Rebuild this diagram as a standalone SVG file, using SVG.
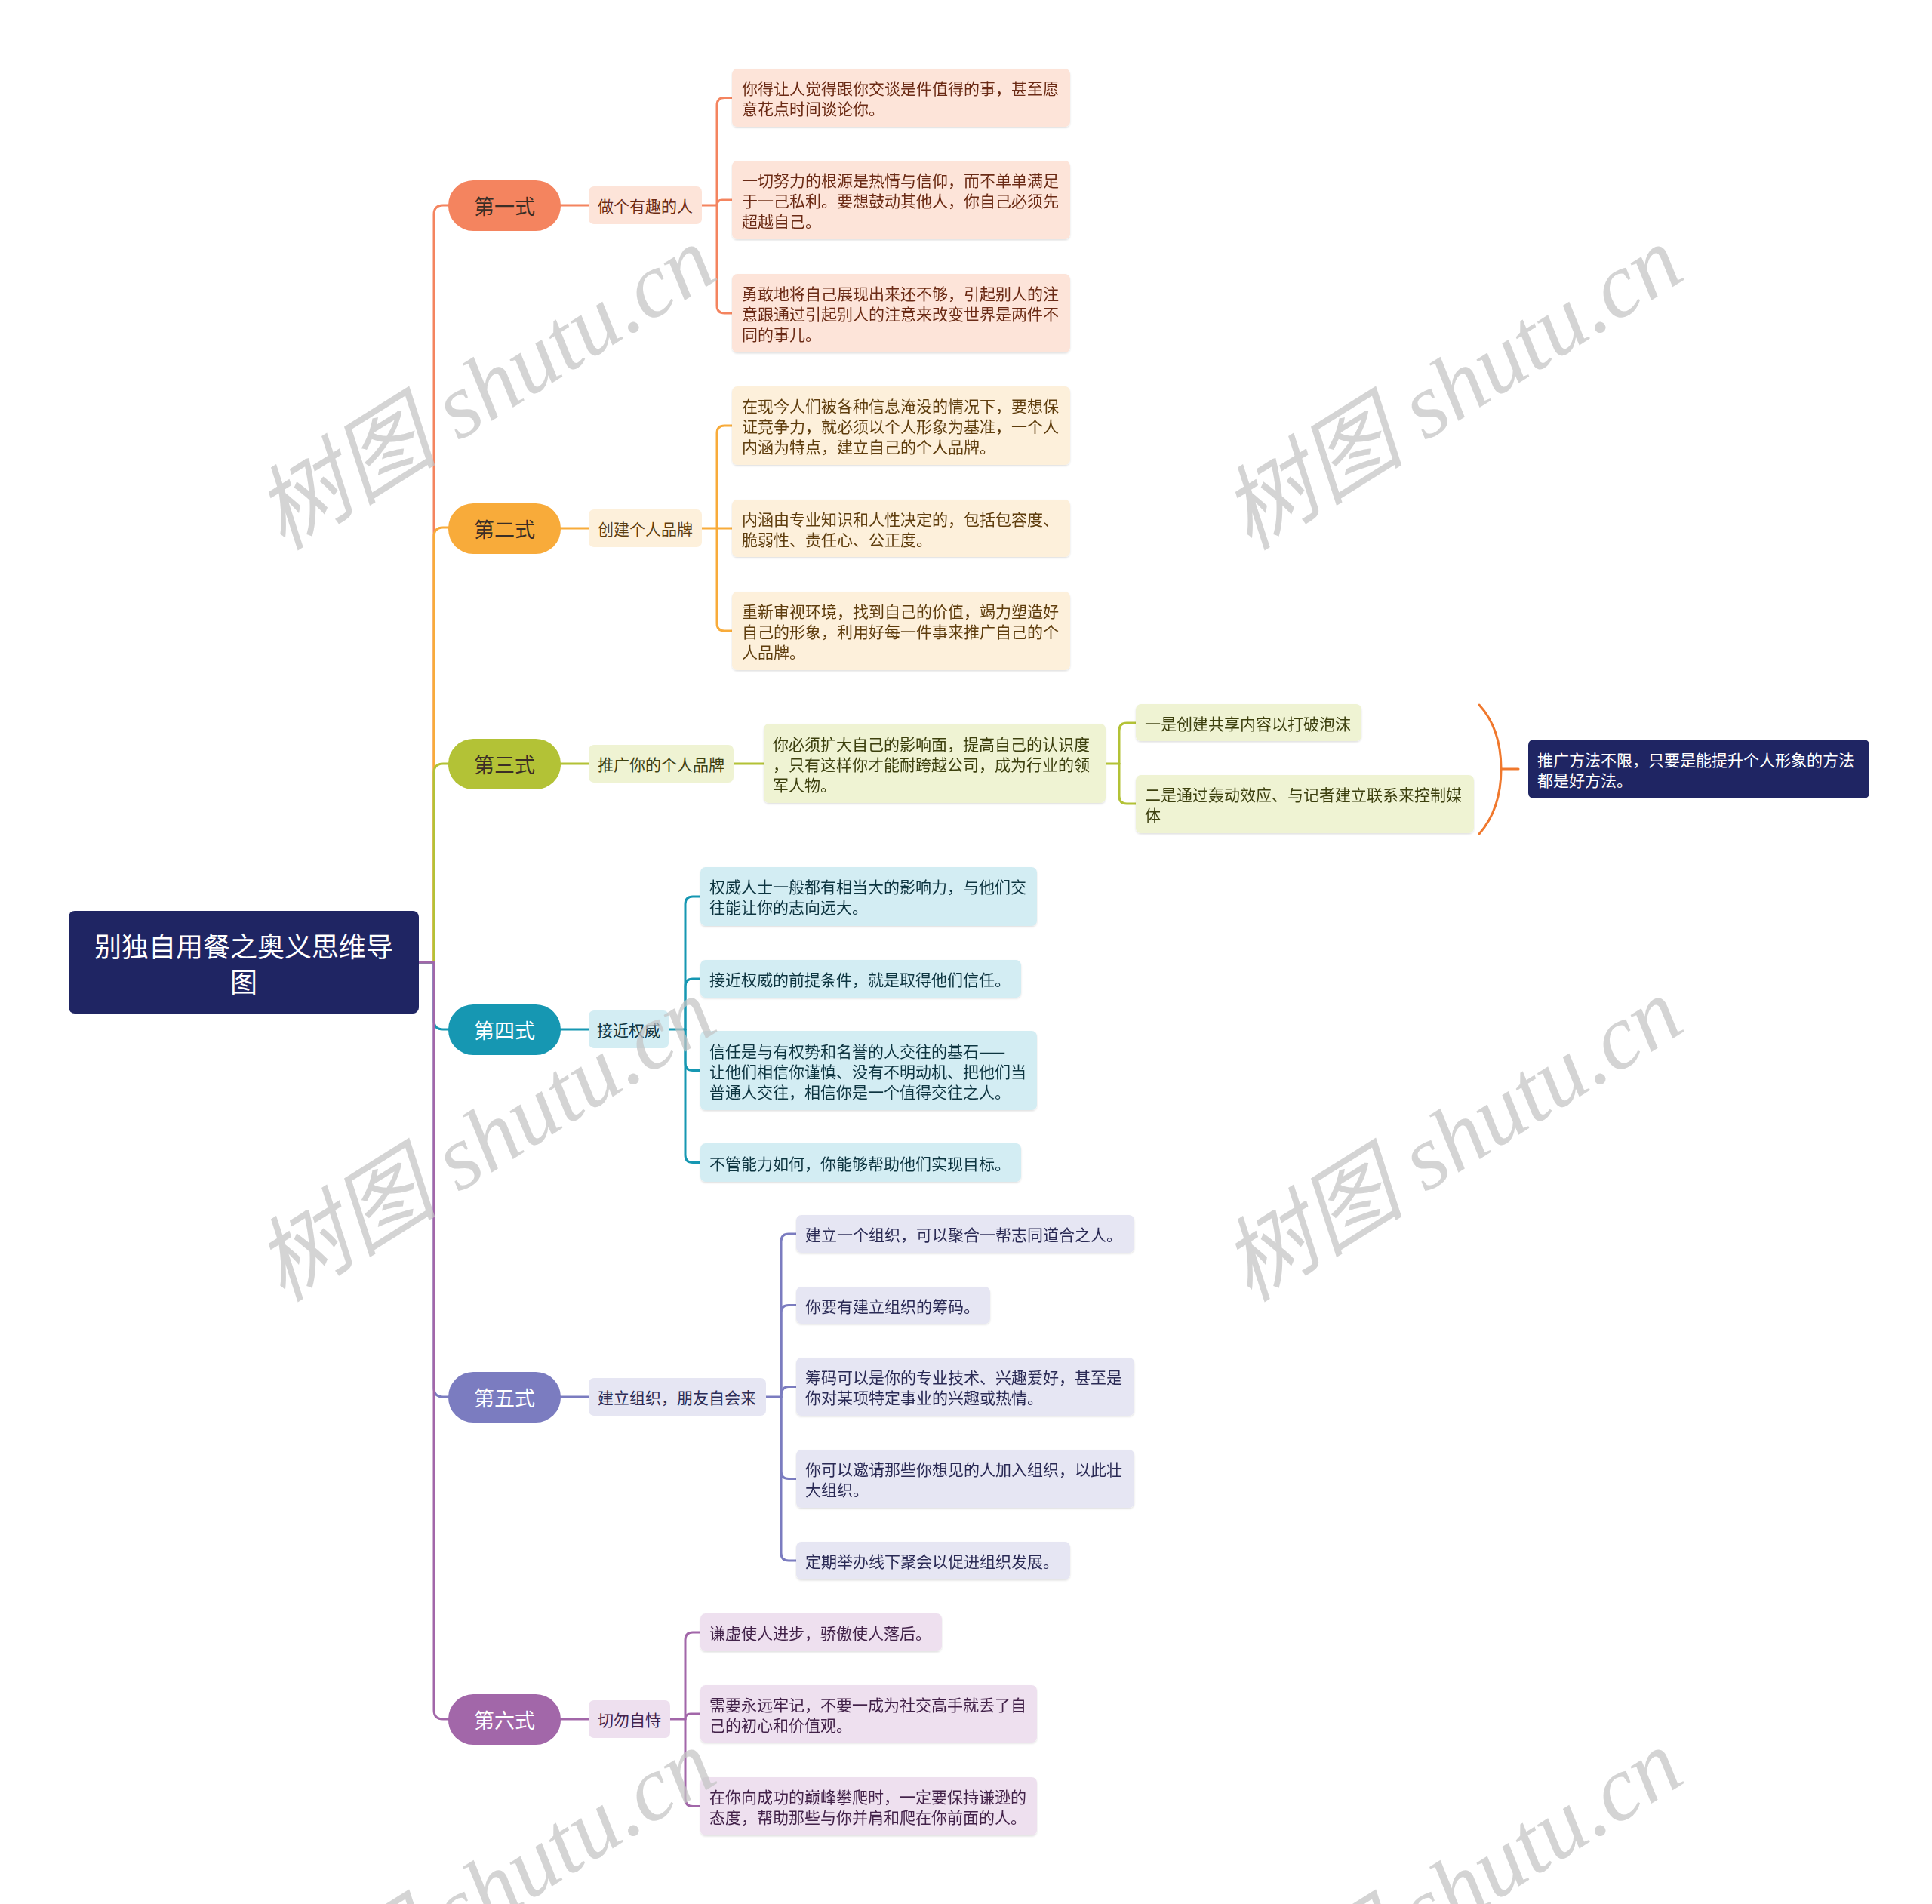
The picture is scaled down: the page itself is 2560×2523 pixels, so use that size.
<svg xmlns="http://www.w3.org/2000/svg" width="2560" height="2523" viewBox="0 0 2560 2523">
<style>
text{font-family:"Noto Sans CJK SC","Noto Sans",sans-serif;dominant-baseline:central}
.root{font-size:36px;fill:#ffffff;text-anchor:middle}
.main{font-size:27px;text-anchor:middle}
.l2{font-size:21px}
.lf{font-size:21px}
.wm{font-family:"Liberation Serif","Noto Sans CJK SC",serif;font-style:italic;font-size:122px;fill:#c4c4c4;fill-opacity:0.72;text-anchor:middle}
.c{fill:none;stroke-width:3;stroke-linecap:round;stroke-linejoin:round}
.b1 .bx{fill:#fde4d9}.b1 text{fill:#6b2a12}
.b2 .bx{fill:#fdf0db}.b2 text{fill:#5e3d0e}
.b3 .bx{fill:#eff3d3}.b3 text{fill:#3d4010}
.b4 .bx{fill:#d3edf3}.b4 text{fill:#0e3441}
.b5 .bx{fill:#e6e6f3}.b5 text{fill:#2b2b55}
.b6 .bx{fill:#eee0ef}.b6 text{fill:#43224a}
.mn text{fill:#ffffff}
.md text{fill:#3a2e26}
</style>
<defs>
<filter id="sh" x="-5%" y="-10%" width="110%" height="130%">
<feDropShadow dx="0" dy="1.5" stdDeviation="1.2" flood-color="#000" flood-opacity="0.12"/>
</filter>
</defs>
<rect width="2560" height="2523" fill="#ffffff"/>

<g id="connectors" class="c">
<g stroke="#f4845f">
<path d="M555 1275 H575 V284 Q575 272 587 272 H596"/>
<path d="M741 272 H780"/>
<path d="M930 272 H950"/>
<path d="M950 272 V139.5 Q950 129.5 960 129.5 H970"/>
<path d="M950 272 Q950 265 957 265 H970"/>
<path d="M950 272 V405 Q950 415 960 415 H970"/>
</g>
<g stroke="#f8ab3a">
<path d="M555 1275 H575 V711 Q575 699 587 699 H596"/>
<path d="M741 700 H780"/>
<path d="M930 700 H950"/>
<path d="M950 700 V574 Q950 564 960 564 H970"/>
<path d="M950 700 H970"/>
<path d="M950 700 V826 Q950 836 960 836 H970"/>
</g>
<g stroke="#b3c236">
<path d="M555 1275 H575 V1024 Q575 1012 587 1012 H596"/>
<path d="M741 1012 H780"/>
<path d="M972 1012 H1012"/>
<path d="M1465 1012 H1483"/>
<path d="M1483 1012 V968 Q1483 958 1493 958 H1505"/>
<path d="M1483 1012 V1055 Q1483 1065 1493 1065 H1505"/>
</g>
<g stroke="#f0782d">
<path d="M1960 934 C1982 958 1989 990 1989 1019 C1989 1048 1982 1080 1960 1105"/>
<path d="M1989 1019 H2012"/>
</g>
<g stroke="#1697b2">
<path d="M555 1275 H575 V1352 Q575 1364 587 1364 H596"/>
<path d="M741 1364 H780"/>
<path d="M886 1364 H908"/>
<path d="M908 1364 V1198 Q908 1188 918 1188 H928"/>
<path d="M908 1364 V1307 Q908 1297 918 1297 H928"/>
<path d="M908 1364 V1408.5 Q908 1418.5 918 1418.5 H928"/>
<path d="M908 1364 V1530.5 Q908 1540.5 918 1540.5 H928"/>
</g>
<g stroke="#7b7cc0">
<path d="M555 1275 H575 V1839 Q575 1851 587 1851 H596"/>
<path d="M741 1851 H780"/>
<path d="M1015 1851 H1035"/>
<path d="M1035 1851 V1645 Q1035 1635 1045 1635 H1055"/>
<path d="M1035 1851 V1739.5 Q1035 1729.5 1045 1729.5 H1055"/>
<path d="M1035 1851 Q1035 1837.5 1045 1837.5 H1055"/>
<path d="M1035 1851 V1949.5 Q1035 1959.5 1045 1959.5 H1055"/>
<path d="M1035 1851 V2058 Q1035 2068 1045 2068 H1055"/>
</g>
<g stroke="#a267a9">
<path d="M555 1275 H575 V2266 Q575 2278 587 2278 H596"/>
<path d="M741 2278 H780"/>
<path d="M888 2278 H908"/>
<path d="M908 2278 V2173 Q908 2163 918 2163 H928"/>
<path d="M908 2278 Q908 2271 915 2271 H928"/>
<path d="M908 2278 V2383.5 Q908 2393.5 918 2393.5 H928"/>
</g>
</g>

<g id="root">
<rect x="91" y="1207" width="464" height="136" rx="8" fill="#1f2563"/>
<text class="root" x="323" y="1252">别独自用餐之奥义思维导</text>
<text class="root" x="323" y="1299">图</text>
</g>

<g id="branch1" class="b1">
<g id="n1" class="md"><rect x="594" y="239" width="149" height="67" rx="33" fill="#f4845f"/><text class="main" x="668.5" y="272">第一式</text></g>
<g id="n1-1"><rect class="bx" x="780" y="247" width="150" height="50" rx="7"/><text class="l2" x="792" y="272">做个有趣的人</text></g>
<g id="n1-1-1" filter="url(#sh)"><rect class="bx" x="970" y="91" width="448" height="77" rx="7"/><text class="lf" x="983" y="116">你得让人觉得跟你交谈是件值得的事，甚至愿</text><text class="lf" x="983" y="143">意花点时间谈论你。</text></g>
<g id="n1-1-2" filter="url(#sh)"><rect class="bx" x="970" y="213" width="448" height="104" rx="7"/><text class="lf" x="983" y="238">一切努力的根源是热情与信仰，而不单单满足</text><text class="lf" x="983" y="265">于一己私利。要想鼓动其他人，你自己必须先</text><text class="lf" x="983" y="292">超越自己。</text></g>
<g id="n1-1-3" filter="url(#sh)"><rect class="bx" x="970" y="363" width="448" height="104" rx="7"/><text class="lf" x="983" y="388">勇敢地将自己展现出来还不够，引起别人的注</text><text class="lf" x="983" y="415">意跟通过引起别人的注意来改变世界是两件不</text><text class="lf" x="983" y="442">同的事儿。</text></g>
</g>

<g id="branch2" class="b2">
<g id="n2" class="md"><rect x="594" y="667" width="149" height="67" rx="33" fill="#f8ab3a"/><text class="main" x="668.5" y="700">第二式</text></g>
<g id="n2-1"><rect class="bx" x="780" y="675" width="150" height="50" rx="7"/><text class="l2" x="792" y="700">创建个人品牌</text></g>
<g id="n2-1-1" filter="url(#sh)"><rect class="bx" x="970" y="512" width="448" height="104" rx="7"/><text class="lf" x="983" y="537">在现今人们被各种信息淹没的情况下，要想保</text><text class="lf" x="983" y="564">证竞争力，就必须以个人形象为基准，一个人</text><text class="lf" x="983" y="591">内涵为特点，建立自己的个人品牌。</text></g>
<g id="n2-1-2" filter="url(#sh)"><rect class="bx" x="970" y="662" width="448" height="76" rx="7"/><text class="lf" x="983" y="686.5">内涵由专业知识和人性决定的，包括包容度、</text><text class="lf" x="983" y="713.5">脆弱性、责任心、公正度。</text></g>
<g id="n2-1-3" filter="url(#sh)"><rect class="bx" x="970" y="784" width="448" height="104" rx="7"/><text class="lf" x="983" y="809">重新审视环境，找到自己的价值，竭力塑造好</text><text class="lf" x="983" y="836">自己的形象，利用好每一件事来推广自己的个</text><text class="lf" x="983" y="863">人品牌。</text></g>
</g>

<g id="branch3" class="b3">
<g id="n3" class="md"><rect x="594" y="979" width="149" height="67" rx="33" fill="#b3c236"/><text class="main" x="668.5" y="1012">第三式</text></g>
<g id="n3-1"><rect class="bx" x="780" y="987" width="192" height="50" rx="7"/><text class="l2" x="792" y="1012">推广你的个人品牌</text></g>
<g id="n3-1-1" filter="url(#sh)"><rect class="bx" x="1012" y="959" width="453" height="105" rx="7"/><text class="lf" x="1024" y="985">你必须扩大自己的影响面，提高自己的认识度</text><text class="lf" x="1024" y="1012">，只有这样你才能耐跨越公司，成为行业的领</text><text class="lf" x="1024" y="1039">军人物。</text></g>
<g id="n3-1-1-1" filter="url(#sh)"><rect class="bx" x="1505" y="933" width="299" height="49" rx="7"/><text class="lf" x="1517" y="958">一是创建共享内容以打破泡沫</text></g>
<g id="n3-1-1-2" filter="url(#sh)"><rect class="bx" x="1505" y="1027" width="448" height="77" rx="7"/><text class="lf" x="1517" y="1052">二是通过轰动效应、与记者建立联系来控制媒</text><text class="lf" x="1517" y="1079">体</text></g>
<g id="summary"><rect x="2025" y="980" width="452" height="78" rx="7" fill="#1f2563"/><text class="lf" x="2037" y="1006" style="fill:#ffffff">推广方法不限，只要是能提升个人形象的方法</text><text class="lf" x="2037" y="1033" style="fill:#ffffff">都是好方法。</text></g>
</g>

<g id="branch4" class="b4">
<g id="n4" class="mn"><rect x="594" y="1331" width="149" height="67" rx="33" fill="#1697b2"/><text class="main" x="668.5" y="1364">第四式</text></g>
<g id="n4-1"><rect class="bx" x="780" y="1339" width="106" height="50" rx="7"/><text class="l2" x="791" y="1364">接近权威</text></g>
<g id="n4-1-1" filter="url(#sh)"><rect class="bx" x="928" y="1149" width="446" height="78" rx="7"/><text class="lf" x="940" y="1174">权威人士一般都有相当大的影响力，与他们交</text><text class="lf" x="940" y="1201">往能让你的志向远大。</text></g>
<g id="n4-1-2" filter="url(#sh)"><rect class="bx" x="928" y="1272" width="425" height="50" rx="7"/><text class="lf" x="940" y="1297">接近权威的前提条件，就是取得他们信任。</text></g>
<g id="n4-1-3" filter="url(#sh)"><rect class="bx" x="928" y="1366" width="446" height="105" rx="7"/><text class="lf" x="940" y="1392">信任是与有权势和名誉的人交往的基石——</text><text class="lf" x="940" y="1419">让他们相信你谨慎、没有不明动机、把他们当</text><text class="lf" x="940" y="1446">普通人交往，相信你是一个值得交往之人。</text></g>
<g id="n4-1-4" filter="url(#sh)"><rect class="bx" x="928" y="1515" width="425" height="51" rx="7"/><text class="lf" x="940" y="1540.5">不管能力如何，你能够帮助他们实现目标。</text></g>
</g>

<g id="branch5" class="b5">
<g id="n5" class="mn"><rect x="594" y="1818" width="149" height="67" rx="33" fill="#7b7cc0"/><text class="main" x="668.5" y="1851">第五式</text></g>
<g id="n5-1"><rect class="bx" x="780" y="1826" width="235" height="50" rx="7"/><text class="l2" x="792" y="1851">建立组织，朋友自会来</text></g>
<g id="n5-1-1" filter="url(#sh)"><rect class="bx" x="1055" y="1610" width="448" height="50" rx="7"/><text class="lf" x="1067" y="1635">建立一个组织，可以聚合一帮志同道合之人。</text></g>
<g id="n5-1-2" filter="url(#sh)"><rect class="bx" x="1055" y="1705" width="257" height="49" rx="7"/><text class="lf" x="1067" y="1729.5">你要有建立组织的筹码。</text></g>
<g id="n5-1-3" filter="url(#sh)"><rect class="bx" x="1055" y="1799" width="448" height="77" rx="7"/><text class="lf" x="1067" y="1824">筹码可以是你的专业技术、兴趣爱好，甚至是</text><text class="lf" x="1067" y="1851">你对某项特定事业的兴趣或热情。</text></g>
<g id="n5-1-4" filter="url(#sh)"><rect class="bx" x="1055" y="1921" width="448" height="77" rx="7"/><text class="lf" x="1067" y="1946">你可以邀请那些你想见的人加入组织，以此壮</text><text class="lf" x="1067" y="1973">大组织。</text></g>
<g id="n5-1-5" filter="url(#sh)"><rect class="bx" x="1055" y="2043" width="363" height="50" rx="7"/><text class="lf" x="1067" y="2068">定期举办线下聚会以促进组织发展。</text></g>
</g>

<g id="branch6" class="b6">
<g id="n6" class="mn"><rect x="594" y="2245" width="149" height="67" rx="33" fill="#a267a9"/><text class="main" x="668.5" y="2278">第六式</text></g>
<g id="n6-1"><rect class="bx" x="780" y="2253" width="108" height="50" rx="7"/><text class="l2" x="792" y="2278">切勿自恃</text></g>
<g id="n6-1-1" filter="url(#sh)"><rect class="bx" x="928" y="2138" width="320" height="50" rx="7"/><text class="lf" x="940" y="2163">谦虚使人进步，骄傲使人落后。</text></g>
<g id="n6-1-2" filter="url(#sh)"><rect class="bx" x="928" y="2233" width="446" height="76" rx="7"/><text class="lf" x="940" y="2257.5">需要永远牢记，不要一成为社交高手就丢了自</text><text class="lf" x="940" y="2284.5">己的初心和价值观。</text></g>
<g id="n6-1-3" filter="url(#sh)"><rect class="bx" x="928" y="2355" width="446" height="77" rx="7"/><text class="lf" x="940" y="2380">在你向成功的巅峰攀爬时，一定要保持谦逊的</text><text class="lf" x="940" y="2407">态度，帮助那些与你并肩和爬在你前面的人。</text></g>
</g>

<g id="watermarks">
<text class="wm" transform="translate(643,514) rotate(-32)">树图 shutu.cn</text>
<text class="wm" transform="translate(1924,514) rotate(-32)">树图 shutu.cn</text>
<text class="wm" transform="translate(643,1510) rotate(-32)">树图 shutu.cn</text>
<text class="wm" transform="translate(1924,1510) rotate(-32)">树图 shutu.cn</text>
<text class="wm" transform="translate(643,2506) rotate(-32)">树图 shutu.cn</text>
<text class="wm" transform="translate(1924,2506) rotate(-32)">树图 shutu.cn</text>
</g>
</svg>
